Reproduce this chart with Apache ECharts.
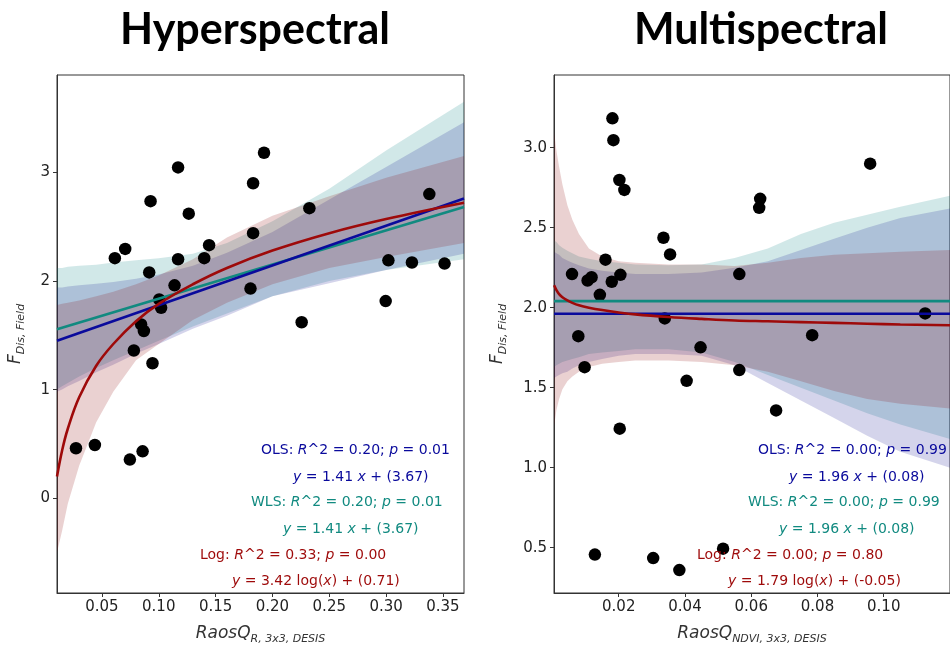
<!DOCTYPE html>
<html>
<head>
<meta charset="utf-8">
<script src="https://cdn.jsdelivr.net/npm/echarts@6/dist/echarts.min.js"></script>
<style>
html, body { margin: 0; padding: 0; background: #fff; }
#chart { width: 950px; height: 650px; }
</style>
</head>
<body>
<div id="chart"></div>
<script>
// Hyperspectral (DESIS RaosQ) vs field dissimilarity
const hyperX = [0.0614, 0.0705, 0.0928, 0.0916, 0.117, 0.117, 0.1264, 0.140, 0.1443, 0.1139, 0.1004, 0.1021, 0.0845, 0.0869, 0.0781, 0.183, 0.1926, 0.183, 0.1807, 0.2325, 0.2257, 0.302, 0.3227, 0.3514, 0.338, 0.2996, 0.0945, 0.0272, 0.0438, 0.0746, 0.0858];
const hyperY = [2.21, 2.295, 2.735, 2.079, 3.045, 2.20, 2.62, 2.21, 2.33, 1.96, 1.83, 1.754, 1.60, 1.54, 1.36, 2.90, 3.18, 2.44, 1.93, 2.67, 1.62, 2.19, 2.17, 2.16, 2.80, 1.815, 1.243, 0.46, 0.49, 0.356, 0.432];
const hyperFitX = [0.0105, 0.3685];
const hyperOls = [1.45, 2.76];
const hyperWls = [1.556, 2.68];
const hyperBandX = [0.0105, 0.015, 0.02, 0.03, 0.045, 0.06, 0.08, 0.1, 0.13, 0.16, 0.2, 0.25, 0.3, 0.3685];
const hyperLog = [0.2, 0.44, 0.64, 0.93, 1.22, 1.42, 1.63, 1.79, 1.97, 2.12, 2.28, 2.44, 2.57, 2.72];
const hyperWlsHi = [2.12, 2.12, 2.13, 2.14, 2.15, 2.17, 2.19, 2.21, 2.25, 2.35, 2.55, 2.85, 3.2, 3.65];
const hyperWlsLo = [1.0, 1.03, 1.06, 1.12, 1.2, 1.27, 1.36, 1.45, 1.58, 1.7, 1.86, 2.0, 2.1, 2.2];
const hyperOlsHi = [1.94, 1.94, 1.95, 1.96, 1.975, 1.99, 2.02, 2.06, 2.14, 2.26, 2.45, 2.75, 3.05, 3.46];
const hyperOlsLo = [0.98, 1.0, 1.03, 1.08, 1.16, 1.23, 1.33, 1.42, 1.56, 1.68, 1.86, 1.98, 2.1, 2.25];
const hyperLogHi = [1.78, 1.79, 1.8, 1.82, 1.86, 1.9, 1.97, 2.05, 2.2, 2.4, 2.6, 2.78, 2.95, 3.15];
const hyperLogLo = [-0.5, -0.3, -0.05, 0.3, 0.7, 0.98, 1.27, 1.42, 1.64, 1.8, 1.97, 2.12, 2.22, 2.35];

// Multispectral (NDVI RaosQ) vs field dissimilarity
const multiX = [0.0181, 0.0184, 0.0202, 0.0217, 0.016, 0.0059, 0.0106, 0.0118, 0.0143, 0.0179, 0.0205, 0.0335, 0.0355, 0.0339, 0.0078, 0.0447, 0.0564, 0.0627, 0.0624, 0.0784, 0.0959, 0.1125, 0.0097, 0.0405, 0.0564, 0.0675, 0.0203, 0.0128, 0.0304, 0.0383, 0.0515];
const multiY = [3.183, 3.047, 2.798, 2.736, 2.30, 2.21, 2.17, 2.19, 2.08, 2.162, 2.205, 2.437, 2.333, 1.933, 1.822, 1.752, 2.21, 2.68, 2.624, 1.828, 2.90, 1.964, 1.628, 1.543, 1.61, 1.358, 1.244, 0.457, 0.435, 0.36, 0.494];
const multiFitX = [0.00046, 0.12];
const multiOls = [1.962, 1.962];
const multiWls = [2.041, 2.041];
const multiBandX = [0.0005, 0.0012, 0.002, 0.003, 0.0045, 0.006, 0.008, 0.011, 0.015, 0.02, 0.025, 0.035, 0.045, 0.055, 0.065, 0.075, 0.085, 0.095, 0.105, 0.12];
const multiLog = [2.14, 2.11, 2.085, 2.065, 2.045, 2.03, 2.015, 2.0, 1.985, 1.97, 1.958, 1.942, 1.93, 1.92, 1.915, 1.91, 1.905, 1.9, 1.895, 1.89];
const multiWlsHi = [2.42, 2.41, 2.39, 2.375, 2.355, 2.34, 2.32, 2.305, 2.29, 2.28, 2.27, 2.265, 2.27, 2.31, 2.37, 2.46, 2.53, 2.58, 2.63, 2.7];
const multiWlsLo = [1.63, 1.64, 1.65, 1.66, 1.67, 1.68, 1.69, 1.71, 1.72, 1.73, 1.74, 1.74, 1.72, 1.66, 1.58, 1.5, 1.42, 1.34, 1.27, 1.18];
const multiOlsHi = [2.35, 2.34, 2.33, 2.31, 2.295, 2.28, 2.265, 2.245, 2.23, 2.22, 2.21, 2.21, 2.22, 2.25, 2.29, 2.36, 2.43, 2.5, 2.56, 2.62];
const multiOlsLo = [1.56, 1.57, 1.58, 1.59, 1.6, 1.62, 1.64, 1.66, 1.68, 1.7, 1.71, 1.71, 1.7, 1.64, 1.53, 1.42, 1.31, 1.2, 1.1, 1.0];
const multiLogHi = [3.10, 2.98, 2.88, 2.77, 2.64, 2.55, 2.46, 2.37, 2.32, 2.29, 2.28, 2.27, 2.27, 2.26, 2.28, 2.31, 2.33, 2.34, 2.35, 2.36];
const multiLogLo = [1.26, 1.36, 1.43, 1.49, 1.54, 1.57, 1.6, 1.63, 1.65, 1.66, 1.67, 1.67, 1.66, 1.64, 1.6, 1.54, 1.48, 1.43, 1.4, 1.37];

const hyperText = [
	['OLS', '0.20', '0.01', '1.41 ', 'x', ' + (3.67)'],
	['WLS', '0.20', '0.01', '1.41 ', 'x', ' + (3.67)'],
	['Log', '0.33', '0.00', '3.42 log(', 'x', ') + (0.71)'],
];
const multiText = [
	['OLS', '0.00', '0.99', '1.96 ', 'x', ' + (0.08)'],
	['WLS', '0.00', '0.99', '1.96 ', 'x', ' + (0.08)'],
	['Log', '0.00', '0.80', '1.79 log(', 'x', ') + (-0.05)'],
];

const OLS_C = '#0a0a9c';
const WLS_C = '#118a80';
const LOG_C = '#9e0a0a';
const FONT = 'DejaVu Sans';

let zip = (xs, ys) => xs.map((x, i) => [x, ys[i]]);

let band = (idx, xs, lo, hi, color) => ({
	type: 'custom',
	xAxisIndex: idx,
	yAxisIndex: idx,
	data: [[xs[0], lo[0]]],
	silent: true,
	z: 1,
	renderItem(params, api) {
		let pts = xs.map((x, i) => api.coord([x, hi[i]]));
		for (let i = xs.length - 1; i >= 0; i--) {
			pts.push(api.coord([xs[i], lo[i]]));
		}
		return {type: 'polygon', shape: {points: pts}, style: {fill: color}};
	},
});

let fitLine = (idx, xs, ys, color, smooth) => ({
	type: 'line',
	xAxisIndex: idx,
	yAxisIndex: idx,
	data: zip(xs, ys),
	showSymbol: false,
	smooth: smooth ? 0.4 : false,
	silent: true,
	z: 4,
	lineStyle: {color, width: 2.6},
});

let dots = (idx, xs, ys) => ({
	type: 'scatter',
	xAxisIndex: idx,
	yAxisIndex: idx,
	data: zip(xs, ys),
	symbolSize: 12.5,
	itemStyle: {color: '#000', opacity: 1},
	z: 3,
});

let nameRich = {
	m: {fontFamily: FONT, fontStyle: 'italic', fontSize: 17, color: '#333', lineHeight: 22, verticalAlign: 'middle'},
	s: {fontFamily: FONT, fontStyle: 'italic', fontSize: 11, color: '#333', lineHeight: 22, verticalAlign: 'bottom'},
};

let xAxis = (idx, min, max, split, sub) => ({
	gridIndex: idx,
	type: 'value',
	min, max,
	splitNumber: split,
	name: '{m|RaosQ}{s|' + sub + '}',
	nameLocation: 'middle',
	nameGap: 30,
	nameTextStyle: {rich: nameRich},
	axisLine: {show: true, onZero: false, lineStyle: {color: '#333', width: 1}},
	axisTick: {show: true, length: 4, lineStyle: {color: '#333'}},
	axisLabel: {fontFamily: FONT, fontSize: 15, color: '#222', margin: 7, showMinLabel: false, showMaxLabel: false, formatter: v => v.toFixed(2)},
	splitLine: {show: false},
});

let yAxis = (idx, min, max, split, gap, fmt) => ({
	gridIndex: idx,
	type: 'value',
	min, max,
	splitNumber: split,
	name: '{m|F}{s|Dis, Field}',
	nameLocation: 'middle',
	nameRotate: 90,
	nameGap: gap,
	nameTextStyle: {rich: nameRich},
	axisLine: {show: true, onZero: false, lineStyle: {color: '#333', width: 1}},
	axisTick: {show: true, length: 4, lineStyle: {color: '#333'}},
	axisLabel: {fontFamily: FONT, fontSize: 15, color: '#222', margin: 7, showMinLabel: false, showMaxLabel: false, formatter: fmt},
	splitLine: {show: false},
});

let statText = (rows, xs, ys) => rows.map((r, i) => {
	let c = [OLS_C, WLS_C, LOG_C][i];
	let rich = {
		n: {fontFamily: FONT, fontSize: 14, fill: c},
		i: {fontFamily: FONT, fontSize: 14, fontStyle: 'italic', fill: c},
	};
	return [
		{
			type: 'text', x: xs[i * 2], y: ys[i * 2], z: 10,
			style: {text: '{n|' + r[0] + ': }{i|R}{n|^2 = ' + r[1] + '; }{i|p}{n| = ' + r[2] + '}', rich, verticalAlign: 'middle'},
		},
		{
			type: 'text', x: xs[i * 2 + 1], y: ys[i * 2 + 1], z: 10,
			style: {text: '{i|y}{n| = ' + r[3] + '}{i|' + r[4] + '}{n|' + r[5] + '}', rich, verticalAlign: 'middle'},
		},
	];
}).flat();

let textRowsY = [450, 477, 502, 529, 555, 581];

let chart = echarts.init(document.getElementById('chart'));
chart.setOption({
	backgroundColor: '#fff',
	animation: false,
	grid: [
		{left: 57, top: 75, width: 407, height: 523, show: true, borderColor: '#333', borderWidth: 1, backgroundColor: 'transparent'},
		{left: 554, top: 75, width: 414, height: 523, show: true, borderColor: '#333', borderWidth: 1, backgroundColor: 'transparent'},
	],
	xAxis: [
		xAxis(0, 0.0105, 0.3685, 7, 'R, 3x3, DESIS'),
		xAxis(1, 0.00046, 0.12, 6, 'NDVI, 3x3, DESIS'),
	],
	yAxis: [
		yAxis(0, -0.872, 3.896, 4, 30, v => String(Math.round(v))),
		yAxis(1, 0.217, 3.454, 6, 45, v => v.toFixed(1)),
	],
	graphic: [
		{type: 'text', x: 255, y: 30, style: {text: 'Hyperspectral', font: 'bold 43px Lato', fill: '#000', align: 'center', verticalAlign: 'middle'}},
		{type: 'text', x: 761, y: 30, style: {text: 'Multispectral', font: 'bold 43px Lato', fill: '#000', align: 'center', verticalAlign: 'middle'}},
		...statText(hyperText, [261, 293, 251, 283, 200, 232], textRowsY),
		...statText(multiText, [758, 789, 748, 779, 697, 728], textRowsY),
	],
	series: [
		band(0, hyperBandX, hyperWlsLo, hyperWlsHi, 'rgba(0,128,128,0.18)'),
		band(0, hyperBandX, hyperOlsLo, hyperOlsHi, 'rgba(0,0,139,0.17)'),
		band(0, hyperBandX, hyperLogLo, hyperLogHi, 'rgba(139,0,0,0.18)'),
		dots(0, hyperX, hyperY),
		fitLine(0, hyperFitX, hyperWls, WLS_C, false),
		fitLine(0, hyperFitX, hyperOls, OLS_C, false),
		fitLine(0, hyperBandX, hyperLog, LOG_C, true),

		band(1, multiBandX, multiWlsLo, multiWlsHi, 'rgba(0,128,128,0.18)'),
		band(1, multiBandX, multiOlsLo, multiOlsHi, 'rgba(0,0,139,0.17)'),
		band(1, multiBandX, multiLogLo, multiLogHi, 'rgba(139,0,0,0.18)'),
		dots(1, multiX, multiY),
		fitLine(1, multiFitX, multiWls, WLS_C, false),
		fitLine(1, multiFitX, multiOls, OLS_C, false),
		fitLine(1, multiBandX, multiLog, LOG_C, true),
	],
});
</script>
</body>
</html>
